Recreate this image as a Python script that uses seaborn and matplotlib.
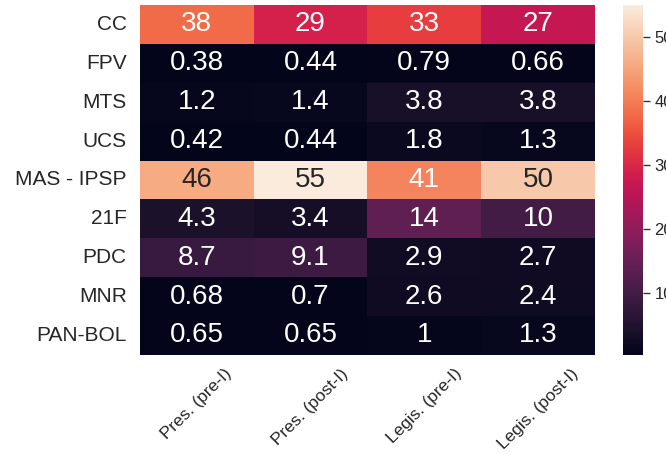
import pandas as pd
import numpy as np
import matplotlib
matplotlib.use("Agg")
import matplotlib.pyplot as plt
import seaborn as sns

# data
parties = ["CC", "FPV", "MTS", "UCS", "MAS - IPSP", "21F", "PDC", "MNR", "PAN-BOL"]
columns = ["Pres. (pre-I)", "Pres. (post-I)", "Legis. (pre-I)", "Legis. (post-I)"]
pres_pre = [38, 0.38, 1.2, 0.42, 46, 4.3, 8.7, 0.68, 0.65]
pres_post = [29, 0.44, 1.4, 0.44, 55, 3.4, 9.1, 0.7, 0.65]
legis_pre = [33, 0.79, 3.8, 1.8, 41, 14, 2.9, 2.6, 1]
legis_post = [27, 0.66, 3.8, 1.3, 50, 10, 2.7, 2.4, 1.3]

df = pd.DataFrame({columns[0]: pres_pre, columns[1]: pres_post,
                   columns[2]: legis_pre, columns[3]: legis_post}, index=parties)

sns.set()
plt.rcParams['font.family'] = ['Liberation Sans', 'DejaVu Sans']

fig = plt.figure(figsize=(6.66, 4.55), dpi=100)
ax = fig.add_axes([0.21, 0.22, 0.683, 0.769])
cax = fig.add_axes([0.935, 0.22, 0.03, 0.769])

sns.heatmap(df, annot=True, annot_kws={"size": 20}, ax=ax, cbar_ax=cax)

ax.tick_params(axis='y', labelsize=15, rotation=0)
ax.tick_params(axis='x', labelsize=12.5, pad=2)
plt.setp(ax.get_xticklabels(), rotation=45)
cax.tick_params(labelsize=12, length=5, width=1, color='#333333')

fig.savefig("out.png", dpi=100)
